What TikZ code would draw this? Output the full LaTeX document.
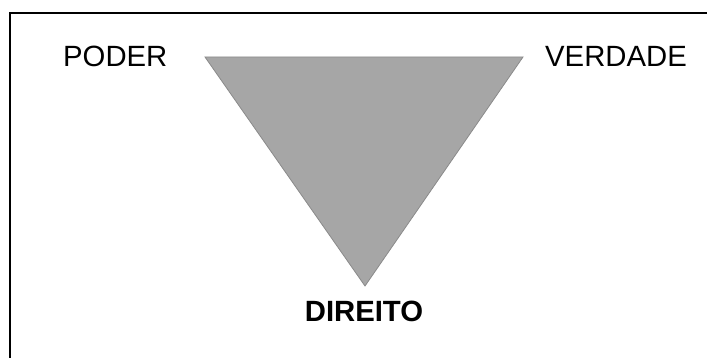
\documentclass[tikz,border=0pt]{standalone}
\usepackage{fontspec}
\setmainfont{Liberation Sans}
\definecolor{trifill}{HTML}{A6A6A6}
\definecolor{triline}{HTML}{8A8A8A}
\begin{document}
\begin{tikzpicture}[x=1pt,y=-1pt,
  lbl/.style={inner sep=0pt,font=\fontsize{29.3}{31}\selectfont},
  frameline/.style={line width=2pt,black}]
\useasboundingbox (0,0) rectangle (707,358);
\coordinate (ftr) at (707,13);
\coordinate (ftl) at (10,13);
\coordinate (fbl) at (10,358);
\draw[frameline] (ftr) -- (ftl) -- (fbl);
\coordinate (a) at (205,57);
\coordinate (b) at (523,57);
\coordinate (c) at (365,286);
\filldraw[fill=trifill,draw=triline,line width=0.8pt] (a) -- (b) -- (c) -- cycle;
\node[lbl,anchor=base west] (poder) at (63,67) {PODER};
\node[lbl,anchor=base west] (verdade) at (545,67) {VERDADE};
\node[lbl,anchor=base,font=\fontsize{29.3}{31}\selectfont\bfseries] (direito) at (364,321) {DIREITO};
\end{tikzpicture}
\end{document}
